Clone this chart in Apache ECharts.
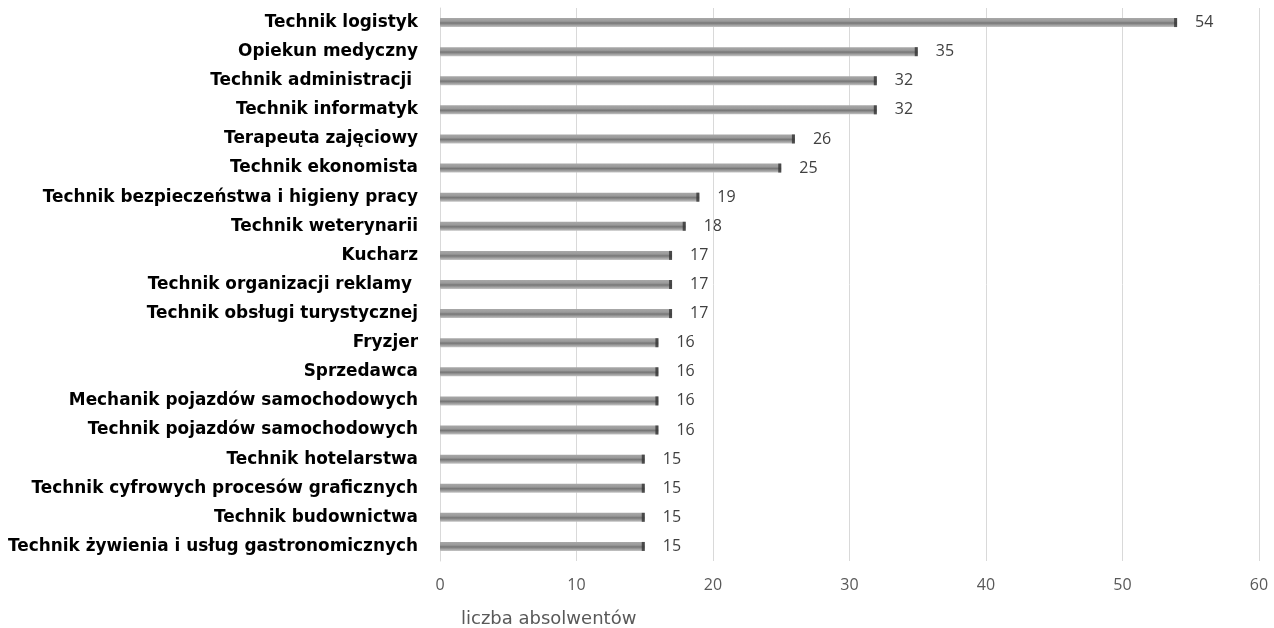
<!DOCTYPE html>
<html><head><meta charset="utf-8">
<script src="https://cdn.jsdelivr.net/npm/echarts@6/dist/echarts.min.js"></script>
<style>html,body{margin:0;padding:0;background:#fff}#c{width:1274px;height:628px}</style>
</head><body><div id="c"></div>
<script>
const categories = ["Technik logistyk","Opiekun medyczny","Technik administracji ","Technik informatyk","Terapeuta zajęciowy","Technik ekonomista","Technik bezpieczeństwa i higieny pracy","Technik weterynarii","Kucharz","Technik organizacji reklamy ","Technik obsługi turystycznej","Fryzjer","Sprzedawca","Mechanik pojazdów samochodowych","Technik pojazdów samochodowych","Technik hotelarstwa","Technik cyfrowych procesów graficznych","Technik budownictwa","Technik żywienia i usług gastronomicznych"];
const values = [54,35,32,32,26,25,19,18,17,17,17,16,16,16,16,15,15,15,15];
const xTicks = [0,10,20,30,40,50,60];
const axisName = "liczba absolwentów";

const chart = echarts.init(document.getElementById('c'));
chart.setOption({
  animation:false,
  grid:{left:440,right:15,top:8,bottom:67,containLabel:false},
  xAxis:{type:'value',min:xTicks[0],max:xTicks[xTicks.length-1],interval:10,
    axisLine:{show:false},axisTick:{show:false},
    splitLine:{lineStyle:{color:'#d9d9d9',width:1}},
    axisLabel:{color:'#595959',fontSize:16,fontFamily:'Open Sans',margin:16}
  },
  yAxis:{type:'category',data:categories,inverse:true,
    axisLine:{show:true,lineStyle:{color:'#d9d9d9'}},axisTick:{show:false},
    axisLabel:{color:'#000',fontSize:16.9,fontWeight:'bold',fontFamily:'DejaVu Sans',margin:22}
  },
  graphic:[{type:'text',left:461,top:610,style:{text:axisName,fill:'#595959',fontSize:18,fontFamily:'DejaVu Sans'}}],
  series:[{
    type:'bar',data:values,barWidth:9,
    itemStyle:{color:new echarts.graphic.LinearGradient(0,0,0,1,[
      {offset:0,color:'#a8a8a8'},{offset:0.35,color:'#9a9a9a'},{offset:0.55,color:'#767676'},{offset:1,color:'#c4c4c4'}])},
    label:{show:true,position:'right',distance:18,color:'#404040',fontSize:16,fontFamily:'Open Sans'}
  },{
    type:'scatter',data:values.map((v,i)=>[v,i]),
    symbol:'rect',symbolSize:[3,9],symbolOffset:[-1.5,0],
    itemStyle:{color:'#333'},silent:true,z:3
  }]
});
</script></body></html>
